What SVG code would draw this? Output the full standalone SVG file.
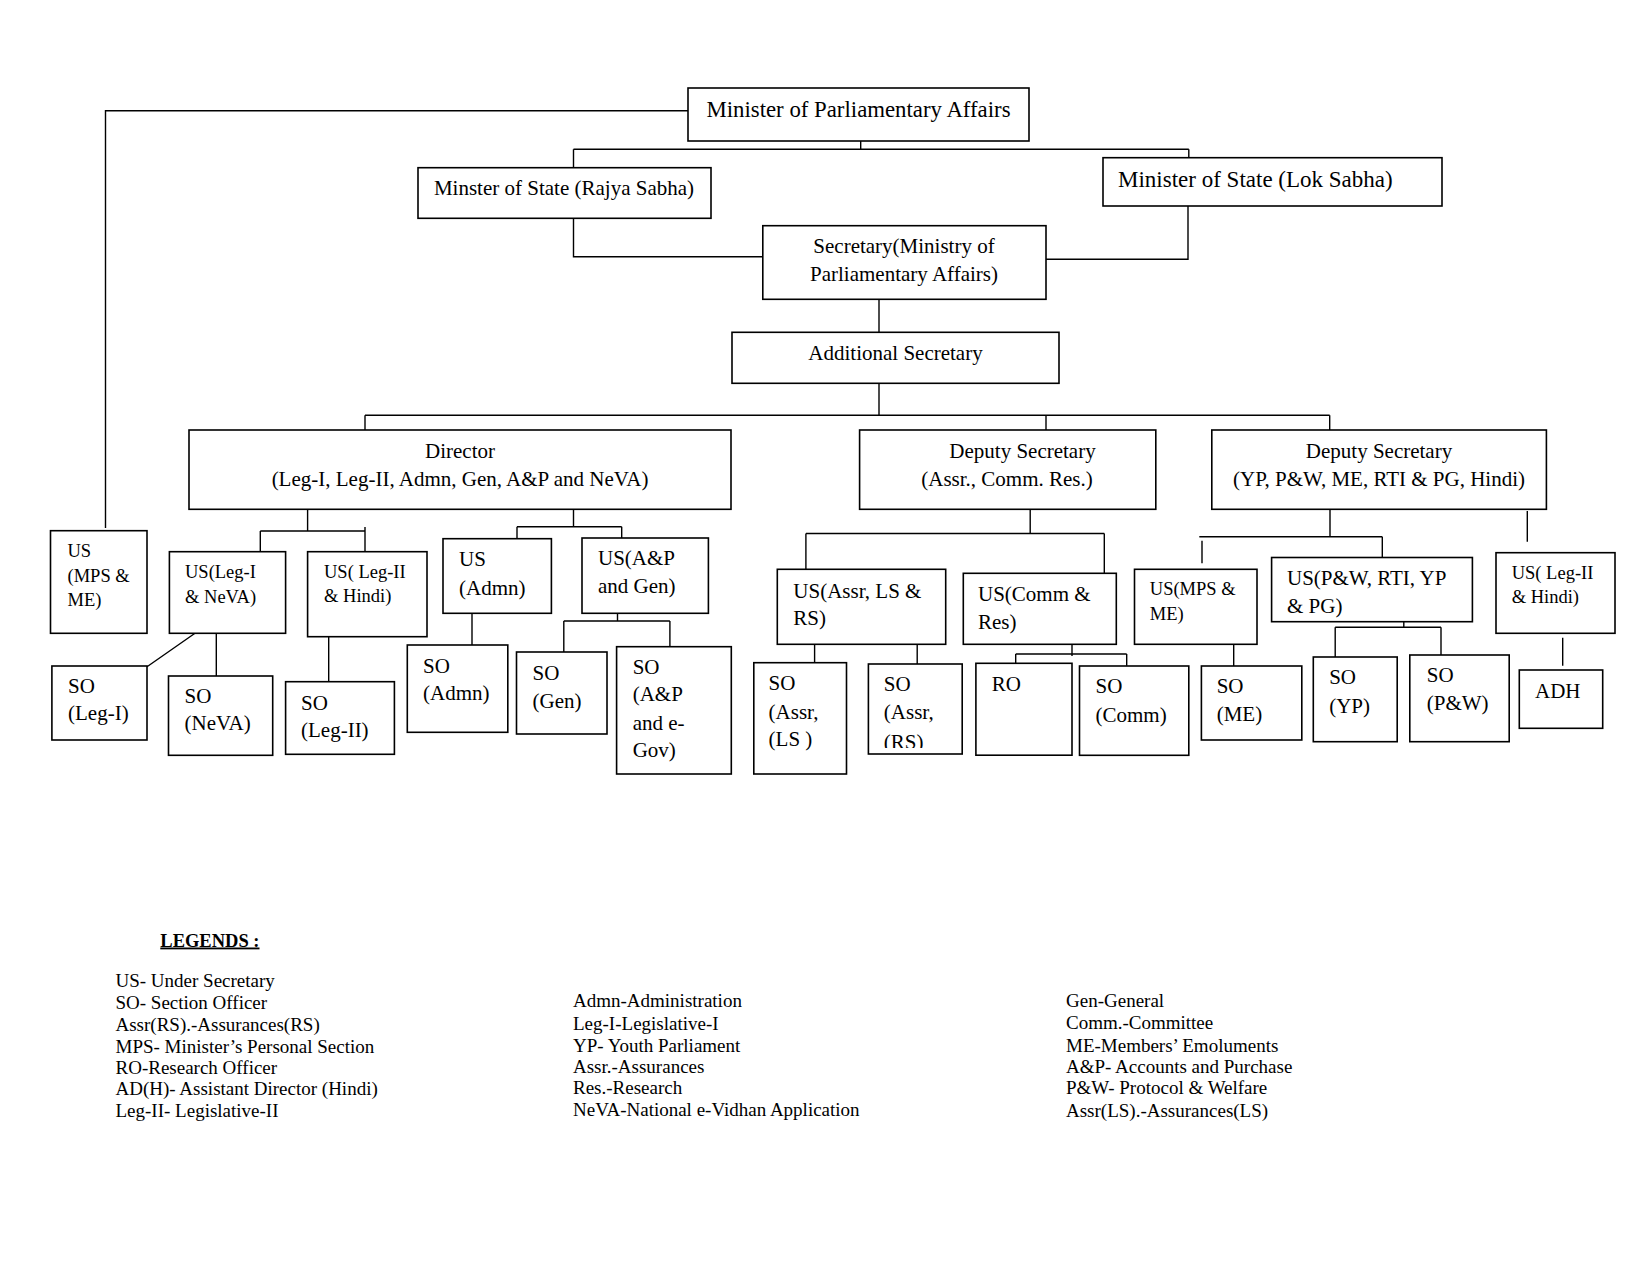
<svg xmlns="http://www.w3.org/2000/svg" width="1650" height="1275" viewBox="0 0 1650 1275">
<style>
text{font-family:"Liberation Serif","Times New Roman",serif;fill:#000;font-size:21px}
.s{font-size:18.5px}
.lg{font-size:19px}
.c{text-anchor:middle}
rect.b{fill:#fff;stroke:#000;stroke-width:1.6}
#connectors path{fill:none;stroke:#000;stroke-width:1.4}
</style>
<defs>
<clipPath id="clipRS"><rect x="868" y="664" width="94" height="84"/></clipPath>
</defs>
<rect width="1650" height="1275" fill="#fff"/>
<g id="connectors">
<path d="M688 110.7H105.5V528"/>
<path d="M860.7 141V149.3M573.5 149.3H1188.8M573.5 149.3V167.7M1188.8 149.3V157.7"/>
<path d="M573.5 218.3V256.7H762.8"/>
<path d="M1188 206V259.3H1046"/>
<path d="M879 299.3V332.3"/>
<path d="M879 383.3V415.3M365 415.3H1329.7M365 415.3V430M1046 415.3V430M1329.7 415.3V430"/>
<path d="M307.6 509.3V531M260.3 531H365M260.3 531V551.7M365 527V551.7"/>
<path d="M573.5 509.3V526.7M517 526.7H621.7M517 526.7V538.7M621.7 526.7V538"/>
<path d="M195 633.3L147 666.7M216.3 633.3V676"/>
<path d="M328.7 634V681.7"/>
<path d="M472 613.3V645"/>
<path d="M617.5 613.3V621M563.8 621H669.9M563.8 621V652M669.9 621V646.7"/>
<path d="M1030.2 509.3V533.5M805.9 533.5H1104.3M805.9 533.5V569.3M1104.3 533.5V573.3"/>
<path d="M814.6 644.3V662.7M917.2 644.3V664"/>
<path d="M1072 644.3V656M1015.7 654H1126.7M1015.7 654V663.3M1126.7 654V665.7"/>
<path d="M1330 509.3V536.7M1199.3 536.7H1382.3M1202 540.7V563.3M1382.3 536.7V557.3"/>
<path d="M1527.3 511V541.7"/>
<path d="M1233.7 644.3V669.3"/>
<path d="M1403.8 621.7V627.3M1335.2 627.3H1441M1335.2 627.3V657M1441 627.3V655"/>
<path d="M1562.7 637.7V665.7"/>
</g>
<g id="minister"><rect class="b" x="688" y="88" width="341" height="53"/><text class="c" x="858.5" y="117" style="font-size:22.8px">Minister of Parliamentary Affairs</text></g>
<g id="mos-rs"><rect class="b" x="418" y="167.7" width="293" height="50.6"/><text class="c" x="564" y="195">Minster of State (Rajya Sabha)</text></g>
<g id="mos-ls"><rect class="b" x="1103" y="157.7" width="339" height="48.3"/><text x="1118" y="187" style="font-size:23px">Minister of State (Lok Sabha)</text></g>
<g id="secretary"><rect class="b" x="762.8" y="225.7" width="283.2" height="73.6"/><text class="c" x="904" y="252.7">Secretary(Ministry of</text><text class="c" x="904" y="281.3">Parliamentary Affairs)</text></g>
<g id="addl-secretary"><rect class="b" x="732" y="332.3" width="327" height="51"/><text class="c" x="895.5" y="360.3">Additional Secretary</text></g>
<g id="director"><rect class="b" x="189" y="430" width="542" height="79.3"/><text class="c" x="460" y="457.7">Director</text><text class="c" x="460" y="486">(Leg-I, Leg-II, Admn, Gen, A&amp;P and NeVA)</text></g>
<g id="ds1"><rect class="b" x="859.6" y="430" width="296.2" height="79.3"/><text class="c" x="1022.5" y="457.7">Deputy Secretary</text><text class="c" x="1007" y="486">(Assr., Comm. Res.)</text></g>
<g id="ds2"><rect class="b" x="1211.8" y="430" width="334.6" height="79.3"/><text class="c" x="1379" y="457.7">Deputy Secretary</text><text class="c" x="1379" y="486">(YP, P&amp;W, ME, RTI &amp; PG, Hindi)</text></g>
<g id="us-mps-me-l"><rect class="b" x="50.5" y="530.7" width="96.5" height="102.6"/><text class="s" x="67.5" y="556.7">US</text><text class="s" x="67.5" y="581.7">(MPS &amp;</text><text class="s" x="67.5" y="606">ME)</text></g>
<g id="us-leg1"><rect class="b" x="169.4" y="551.7" width="116.2" height="81.6"/><text class="s" x="185" y="577.7">US(Leg-I</text><text class="s" x="185" y="602.7">&amp; NeVA)</text></g>
<g id="us-leg2"><rect class="b" x="307.6" y="551.7" width="119.4" height="85"/><text class="s" x="324" y="577.7">US( Leg-II</text><text class="s" x="324" y="601.7">&amp; Hindi)</text></g>
<g id="us-admn"><rect class="b" x="443" y="538.7" width="108.4" height="74.6"/><text x="459" y="566.3">US</text><text x="459" y="594.7">(Admn)</text></g>
<g id="us-ap"><rect class="b" x="582" y="538" width="126.4" height="75.3"/><text x="598" y="565.3">US(A&amp;P</text><text x="598" y="592.7">and Gen)</text></g>
<g id="so-leg1"><rect class="b" x="51.9" y="666" width="95.1" height="74"/><text x="68" y="693">SO</text><text x="68" y="720.3">(Leg-I)</text></g>
<g id="so-neva"><rect class="b" x="168.5" y="676" width="104.2" height="79.3"/><text x="184.6" y="703">SO</text><text x="184.6" y="730.3">(NeVA)</text></g>
<g id="so-leg2"><rect class="b" x="285.6" y="681.7" width="108.8" height="72.6"/><text x="301" y="709.7">SO</text><text x="301" y="737">(Leg-II)</text></g>
<g id="so-admn"><rect class="b" x="407.3" y="645" width="100.5" height="87.3"/><text x="423" y="672.7">SO</text><text x="423" y="700.3">(Admn)</text></g>
<g id="so-gen"><rect class="b" x="516.5" y="652" width="90.5" height="82"/><text x="532.6" y="679.7">SO</text><text x="532.6" y="707.7">(Gen)</text></g>
<g id="so-ap"><rect class="b" x="616.6" y="646.7" width="114.7" height="127.3"/><text x="632.7" y="673.7">SO</text><text x="632.7" y="701">(A&amp;P</text><text x="632.7" y="729.7">and e-</text><text x="632.7" y="757">Gov)</text></g>
<g id="us-assr"><rect class="b" x="777.3" y="569.3" width="168.4" height="75"/><text x="793.3" y="597.7">US(Assr, LS &amp;</text><text x="793.3" y="625.3">RS)</text></g>
<g id="us-comm"><rect class="b" x="963.3" y="573.3" width="153" height="71"/><text x="978" y="601.3">US(Comm &amp;</text><text x="978" y="628.7">Res)</text></g>
<g id="us-mps-me-r"><rect class="b" x="1134.5" y="569.3" width="122.5" height="75"/><text class="s" x="1149.8" y="595.3">US(MPS &amp;</text><text class="s" x="1149.8" y="620.3">ME)</text></g>
<g id="us-pw"><rect class="b" x="1271.6" y="557.5" width="200.8" height="64.2"/><text x="1287" y="585.3">US(P&amp;W, RTI, YP</text><text x="1287" y="612.7">&amp; PG)</text></g>
<g id="us-leg2-hindi"><rect class="b" x="1496" y="552.7" width="119" height="80.6"/><text class="s" x="1511.7" y="579.3">US( Leg-II</text><text class="s" x="1511.7" y="602.7">&amp; Hindi)</text></g>
<g id="adh"><rect class="b" x="1519.3" y="670" width="83.4" height="58.3"/><text x="1535" y="697.7">ADH</text></g>
<g id="so-assr-ls"><rect class="b" x="753.8" y="662.7" width="92.7" height="111.3"/><text x="768.6" y="689.7">SO</text><text x="768.6" y="718.7">(Assr,</text><text x="768.6" y="746.3">(LS )</text></g>
<g id="so-assr-rs"><rect class="b" x="868.4" y="664" width="93.8" height="90"/><g clip-path="url(#clipRS)"><text x="883.8" y="691.3">SO</text><text x="883.8" y="719.3">(Assr,</text><text x="883.8" y="749">(RS)</text></g></g>
<g id="ro"><rect class="b" x="975.9" y="663.3" width="96.1" height="91.9"/><text x="991.8" y="691.3">RO</text></g>
<g id="so-comm"><rect class="b" x="1079.5" y="666" width="109.3" height="89.3"/><text x="1095.5" y="692.7">SO</text><text x="1095.5" y="721.7">(Comm)</text></g>
<g id="so-me"><rect class="b" x="1201.4" y="666" width="100.4" height="74"/><text x="1216.7" y="693">SO</text><text x="1216.7" y="721.3">(ME)</text></g>
<g id="so-yp"><rect class="b" x="1313.3" y="657" width="83.9" height="84.7"/><text x="1329.2" y="683.7">SO</text><text x="1329.2" y="713">(YP)</text></g>
<g id="so-pw"><rect class="b" x="1409.8" y="655" width="99.4" height="86.7"/><text x="1426.8" y="682">SO</text><text x="1426.8" y="710.3">(P&amp;W)</text></g>
<g id="legend">
<text x="160.3" y="946.5" style="font-size:18.5px;font-weight:bold;text-decoration:underline">LEGENDS :</text>
<text class="lg" x="115.5" y="987">US- Under Secretary</text>
<text class="lg" x="115.5" y="1009.3">SO- Section Officer</text>
<text class="lg" x="115.5" y="1031">Assr(RS).-Assurances(RS)</text>
<text class="lg" x="115.5" y="1052.7">MPS- Minister’s Personal Section</text>
<text class="lg" x="115.5" y="1073.7">RO-Research Officer</text>
<text class="lg" x="115.5" y="1095.3">AD(H)- Assistant Director (Hindi)</text>
<text class="lg" x="115.5" y="1117">Leg-II- Legislative-II</text>
<text class="lg" x="573" y="1007">Admn-Administration</text>
<text class="lg" x="573" y="1030">Leg-I-Legislative-I</text>
<text class="lg" x="573" y="1051.7">YP- Youth Parliament</text>
<text class="lg" x="573" y="1072.7">Assr.-Assurances</text>
<text class="lg" x="573" y="1094.3">Res.-Research</text>
<text class="lg" x="573" y="1116">NeVA-National e-Vidhan Application</text>
<text class="lg" x="1066" y="1007">Gen-General</text>
<text class="lg" x="1066" y="1029.3">Comm.-Committee</text>
<text class="lg" x="1066" y="1051.7">ME-Members’ Emoluments</text>
<text class="lg" x="1066" y="1072.7">A&amp;P- Accounts and Purchase</text>
<text class="lg" x="1066" y="1094.3">P&amp;W- Protocol &amp; Welfare</text>
<text class="lg" x="1066" y="1116.7">Assr(LS).-Assurances(LS)</text>
</g>
</svg>
